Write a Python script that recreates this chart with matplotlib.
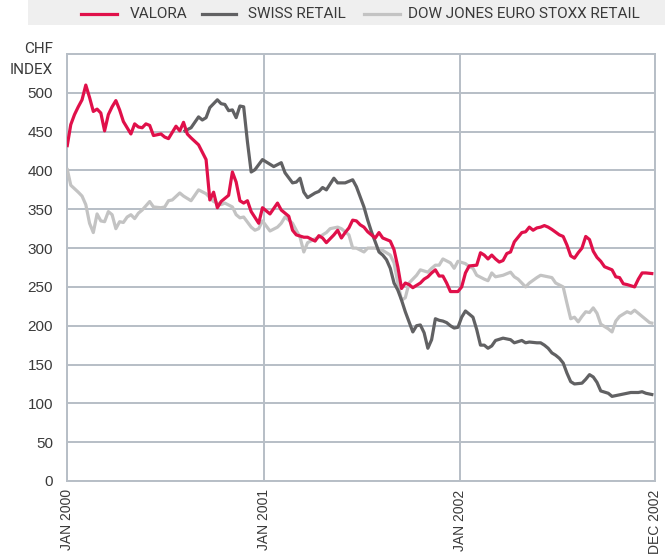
import matplotlib
matplotlib.use("Agg")
import matplotlib.pyplot as plt
import pandas as pd
from matplotlib.lines import Line2D
from matplotlib.patches import Rectangle

# ---------------- data (weeks since 1 Jan 2000, index values in CHF) ----------------
START = "2000-01-01"

valora_weeks = [0, 1, 2, 3, 4, 5, 6, 7, 8, 9, 10, 11, 12, 13, 14, 15,
                17, 18, 19, 20, 21, 22, 23, 24, 25, 26, 27,
                29, 30, 31, 32, 33,
                35, 37, 38, 39, 40, 41,
                43, 44, 45, 46, 47, 48, 49,
                51, 52, 54, 56, 57, 59, 60, 61, 63, 64, 66, 67, 68, 69,
                71, 72, 73, 74, 75, 76, 77, 78, 79, 80,
                82, 83, 84, 86, 87, 88, 89, 90, 91, 92,
                94, 95, 96, 97, 98, 99, 100, 101, 102,
                104, 105, 106, 107,
                109, 110, 111, 112, 113, 114, 115, 116, 117, 118, 119,
                121, 122, 123, 124, 125, 126, 127, 128, 129,
                131, 132, 133, 134, 135, 136, 137, 138, 139, 140, 141, 142, 143,
                145, 146, 147, 148, 149,
                151, 152, 153, 154, 156]
valora_values = [430, 459, 472, 482, 491, 510, 494, 476, 479, 474, 451, 472, 482, 490, 478, 463,
                 447, 460, 456, 455, 460, 458, 445, 446, 447, 443, 441,
                 457, 451, 462, 447, 442,
                 433, 414, 362, 372, 352, 360,
                 368, 398, 385, 361, 358, 361, 347,
                 332, 352, 344, 358, 349, 341, 323, 317, 314, 314, 309, 316, 313, 307,
                 317, 323, 313, 320, 326, 336, 335, 330, 327, 321,
                 313, 320, 313, 309, 298, 276, 248, 255, 253, 249,
                 255, 260, 263, 268, 272, 264, 264, 255, 244,
                 244, 250, 268, 277,
                 278, 294, 291, 286, 291, 286, 282, 284, 293, 295, 308,
                 320, 321, 327, 323, 326, 327, 329, 327, 324,
                 317, 315, 304, 290, 287, 294, 300, 315, 311, 296, 288, 283, 276,
                 272, 263, 262, 254, 253,
                 250, 260, 268, 268, 267]

swiss_weeks = [31, 33, 35, 36, 37, 38,
               40, 41, 42, 43, 44, 45, 46, 47, 48, 49, 50,
               52, 53, 55, 57, 58, 60, 61, 62, 63, 64, 66, 67, 68, 69, 71, 72, 74,
               76, 77, 78, 79, 80, 81, 82, 83, 84, 85, 86, 87, 88, 89, 90, 91, 92, 93, 94, 95,
               96, 97, 98, 99, 100, 101, 102, 103, 104, 105, 106, 107, 108, 109, 110, 111, 112,
               113, 114, 116, 118, 119, 121, 122, 123,
               125, 126, 127, 128, 129, 130, 131, 132, 133, 134, 135,
               137, 138, 139, 140, 141, 142, 144, 145, 146, 148, 150, 152, 153, 154, 156]
swiss_values = [450, 455, 469, 465, 468, 481,
                491, 486, 485, 477, 478, 468, 483, 482, 437, 398, 401,
                414, 411, 405, 410, 397, 384, 385, 390, 372, 365, 371, 373, 378, 375, 390, 384, 384,
                388, 379, 366, 353, 336, 321, 308, 295, 291, 285, 274, 255, 246, 233, 218, 205, 192, 200, 201, 191,
                171, 182, 209, 207, 206, 204, 200, 197, 198, 211, 219, 215, 211, 195, 175, 175, 171,
                174, 181, 184, 182, 178, 181, 178, 179,
                178, 178, 175, 171, 165, 162, 158, 152, 139, 128, 125,
                126, 131, 137, 134, 127, 116, 113, 109, 110, 112, 114, 114, 115, 113, 111]

stoxx_weeks = [0, 1, 3, 4, 5, 6, 7, 8, 9, 10, 11, 12, 13, 14, 15, 16, 17, 18, 19, 20,
               22, 23, 25, 26, 27, 28, 30, 31, 33, 34, 35, 37, 38, 39, 41, 42,
               44, 45, 46, 47, 49, 50, 51, 52, 54, 56, 57, 58, 60, 61, 62, 63, 64,
               66, 67, 69, 70, 72, 73, 75, 76, 77, 79, 80, 82, 84,
               86, 87, 88, 89, 90, 91, 93, 94, 96, 97, 98, 99, 100, 102, 103, 104,
               106, 107, 108, 109, 111, 112, 113, 114, 116, 118, 119, 120, 121, 122, 123,
               125, 126, 127, 128, 129, 130, 132, 133, 134, 135, 136, 137, 138, 139, 140,
               141, 142, 143, 144, 145, 146, 147, 148, 149, 150, 151, 152, 153, 154, 155, 156]
stoxx_values = [403, 381, 372, 367, 356, 332, 320, 344, 335, 334, 347, 343, 325, 334, 333, 340, 343, 338, 345, 349,
                360, 353, 352, 353, 361, 362, 371, 367, 361, 368, 375, 370, 365, 360, 356, 358,
                353, 343, 339, 340, 327, 323, 325, 335, 322, 327, 332, 340, 332, 323, 314, 295, 307,
                312, 314, 320, 325, 327, 325, 317, 300, 300, 295, 300, 300, 297,
                291, 281, 255, 233, 236, 255, 265, 272, 269, 274, 278, 278, 286, 281, 274, 283,
                280, 276, 274, 265, 260, 258, 268, 263, 265, 269, 263, 260, 255, 250, 255,
                262, 265, 264, 263, 262, 255, 250, 229, 209, 211, 205, 212, 218, 217, 223,
                216, 202, 199, 196, 192, 206, 212, 215, 218, 216, 220, 216, 212, 208, 204, 203]

series_names = ["VALORA", "SWISS RETAIL", "DOW JONES EURO STOXX RETAIL"]
tick_dates = ["2000-01-01", "2001-01-01", "2002-01-01", "2002-12-31"]
tick_labels = ["JAN 2000", "JAN 2001", "JAN 2002", "DEC 2002"]
y_ticks = [0, 50, 100, 150, 200, 250, 300, 350, 400, 450, 500]
y_max = 550

# ---------------- styling ----------------
RED = "#e0104a"
DARK = "#616163"
LIGHT = "#c3c3c3"
GRID = "#b7bec6"
TXT = "#3a3a3a"
NARROW = ["Roboto", "Liberation Sans", "DejaVu Sans"]
REG = ["Liberation Sans", "DejaVu Sans"]

W, H = 665, 558
fig = plt.figure(figsize=(W / 100, H / 100), dpi=100)
fig.patch.set_facecolor("white")

ax_l, ax_r, ax_t, ax_b = 67, 655, 54, 481
ax = fig.add_axes([ax_l / W, 1 - ax_b / H, (ax_r - ax_l) / W, (ax_b - ax_t) / H])


def to_dates(weeks):
    return pd.Timestamp(START) + pd.to_timedelta([w * 7 for w in weeks], unit="D")


def xy(weeks, values):
    n = min(len(weeks), len(values))
    return to_dates(weeks[:n]), values[:n]


series = [
    (stoxx_weeks, stoxx_values, LIGHT),
    (swiss_weeks, swiss_values, DARK),
    (valora_weeks, valora_values, RED),
]
for i, (wk, vals, col) in enumerate(series):
    d, v = xy(wk, vals)
    ax.plot(d, v, color=col, lw=2.3, solid_joinstyle="round", solid_capstyle="butt", zorder=3 + i)

ax.set_xlim(pd.Timestamp(tick_dates[0]), pd.Timestamp(tick_dates[-1]))
ax.set_ylim(0, y_max)
ax.set_yticks(y_ticks)
ax.set_xticks([pd.Timestamp(t) for t in tick_dates])
ax.set_xticklabels(tick_labels, rotation=90, va="top", ha="center",
                   fontfamily=REG, fontsize=10, color=TXT)
ax.set_yticklabels([str(t) for t in y_ticks], fontfamily=REG, fontsize=11, color=TXT)
ax.tick_params(axis="both", length=0)
ax.tick_params(axis="y", pad=10)
ax.tick_params(axis="x", pad=6)
ax.grid(True, color=GRID, lw=1.4, zorder=1)
ax.set_axisbelow(True)
for s in ax.spines.values():
    s.set_color(GRID)
    s.set_linewidth(1.4)

# axis unit label
fig.text(53 / W, 1 - 49 / H, "CHF", ha="right", va="center", fontfamily=NARROW, fontsize=11, color=TXT)
fig.text(53 / W, 1 - 70 / H, "INDEX", ha="right", va="center", fontfamily=NARROW, fontsize=11, color=TXT)

# legend band
fig.patches.append(Rectangle((28 / W, 1 - 25 / H), 1 - 28 / W, 25 / H, transform=fig.transFigure,
                             facecolor="#efefef", edgecolor="none", zorder=0))
leg_y = 1 - 14 / H
leg = [(81, 117, 130, RED), (202, 236, 248, DARK), (364, 400, 408, LIGHT)]
for (x0, x1, tx, col), name in zip(leg, series_names):
    fig.lines.append(Line2D([x0 / W, x1 / W], [leg_y, leg_y], transform=fig.transFigure,
                            color=col, lw=2.3, zorder=2))
    fig.text(tx / W, leg_y, name, ha="left", va="center", fontfamily=NARROW, fontsize=11, color=TXT)

fig.savefig("out.png", dpi=100)
